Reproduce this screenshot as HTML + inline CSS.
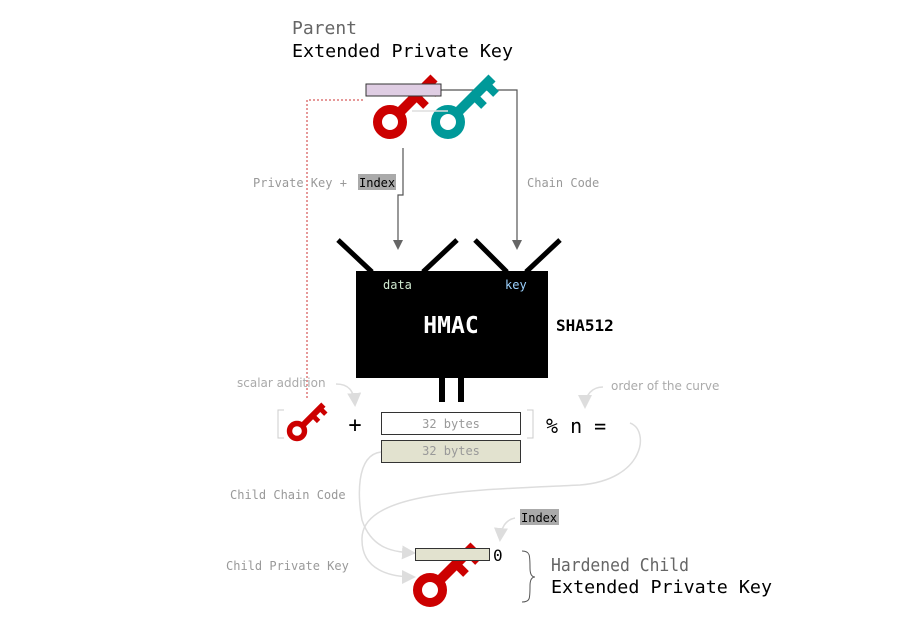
<!DOCTYPE html>
<html><head><meta charset="utf-8"><style>
html,body{margin:0;padding:0;background:#fff;}
svg{display:block;}
.m{font-family:"DejaVu Sans Mono","Liberation Mono",monospace;}
.s{font-family:"DejaVu Sans","Liberation Sans",sans-serif;}
</style></head><body>
<svg width="900" height="627" viewBox="0 0 900 627" xmlns="http://www.w3.org/2000/svg">
<defs>
<marker id="a" markerWidth="10" markerHeight="10" refX="8" refY="5" orient="auto" markerUnits="userSpaceOnUse"><path d="M0,0 L10,5 L0,10 z" fill="#666"/></marker>
<marker id="b" markerWidth="14" markerHeight="14" refX="12" refY="7" orient="auto" markerUnits="userSpaceOnUse"><path d="M0,0 L14,7 L0,14 z" fill="#ddd"/></marker>
<g id="key">
<circle cx="0" cy="0" r="12.5" fill="none" stroke-width="9"/>
<line x1="8" y1="-8" x2="44" y2="-44" stroke-width="10"/>
<line x1="26" y1="-26" x2="36" y2="-16" stroke-width="8"/>
<line x1="38" y1="-38" x2="48" y2="-28" stroke-width="8"/>
</g>
</defs>
<text x="292" y="34" class="m" font-size="18" fill="#666">Parent</text>
<text x="292" y="57" class="m" font-size="18" fill="#000" textLength="221" lengthAdjust="spacingAndGlyphs">Extended Private Key</text>
<polyline points="363,100 307,100 307,400" fill="none" stroke="#c33" stroke-width="1" stroke-dasharray="2,2"/>
<polyline points="441,90 517,90 517,248" fill="none" stroke="#555" stroke-width="1.2" marker-end="url(#a)"/>
<polyline points="403,148 403,195 398,195 398,248" fill="none" stroke="#555" stroke-width="1.2" marker-end="url(#a)"/>
<use href="#key" x="390" y="122" stroke="#cc0000"/>
<use href="#key" x="448" y="122" stroke="#009999"/>
<line x1="412" y1="111" x2="448" y2="111" stroke="#ddd" stroke-width="1.5"/>
<rect x="366" y="84" width="75" height="12" fill="#dfcde3" stroke="#333" stroke-width="1"/>
<text x="253" y="187" class="m" font-size="12" fill="#999">Private Key +</text>
<rect x="358" y="174" width="38" height="16" fill="#aaa"/>
<text x="359" y="187" class="m" font-size="12" fill="#000">Index</text>
<text x="527" y="187" class="m" font-size="12" fill="#999">Chain Code</text>
<g stroke="#000" stroke-width="5">
<line x1="338" y1="240" x2="372" y2="272"/><line x1="457" y1="240" x2="423" y2="272"/>
<line x1="475" y1="240" x2="507" y2="272"/><line x1="560" y1="240" x2="526" y2="272"/>
</g>
<rect x="356" y="271" width="192" height="107" fill="#000"/>
<text x="383" y="289" class="m" font-size="12" fill="#cfe8cf">data</text>
<text x="505" y="289" class="m" font-size="12" fill="#9cd2ff">key</text>
<text x="451" y="333" class="m" font-size="23" font-weight="bold" fill="#fff" text-anchor="middle">HMAC</text>
<text x="556" y="331" class="m" font-size="16" font-weight="bold" fill="#000">SHA512</text>
<rect x="439" y="378" width="6" height="24" fill="#000"/>
<rect x="458" y="378" width="6" height="24" fill="#000"/>
<path d="M284,410 L278,410 L278,438 L284,438" fill="none" stroke="#ccc" stroke-width="1"/>
<use href="#key" x="297" y="431" stroke="#cc0000" transform="translate(297,431) scale(0.6) translate(-297,-431)"/>
<text x="355" y="432" class="m" font-size="22" fill="#000" text-anchor="middle">+</text>
<rect x="381.5" y="412.5" width="139" height="22" fill="#fff" stroke="#333"/>
<text x="451" y="428" class="m" font-size="12" fill="#999" text-anchor="middle">32 bytes</text>
<rect x="381.5" y="440.5" width="139" height="22" fill="#e2e2cf" stroke="#333"/>
<text x="451" y="455" class="m" font-size="12" fill="#999" text-anchor="middle">32 bytes</text>
<path d="M527,410 L533,410 L533,438 L527,438" fill="none" stroke="#ccc" stroke-width="1"/>
<text x="546" y="433" class="m" font-size="20" fill="#000">% n =</text>
<text x="237" y="387" class="s" font-size="12" fill="#aaa">scalar addition</text>
<path d="M336,384 C348,384 354,390 355,405" fill="none" stroke="#ddd" stroke-width="1.5" marker-end="url(#b)"/>
<text x="611" y="390" class="s" font-size="12" fill="#aaa">order of the curve</text>
<path d="M603,387 C592,387 585,395 585,407" fill="none" stroke="#ddd" stroke-width="1.5" marker-end="url(#b)"/>
<path d="M381,452 C355,455 358,500 362,520 C372,550 395,552 414,553" fill="none" stroke="#ddd" stroke-width="1.5" marker-end="url(#b)"/>
<path d="M630,423 C650,430 645,480 580,485 C480,490 360,490 362,540 C362,570 390,577 414,577" fill="none" stroke="#ddd" stroke-width="1.5" marker-end="url(#b)"/>
<text x="230" y="499" class="m" font-size="12" fill="#999">Child Chain Code</text>
<text x="226" y="570" class="m" font-size="12" fill="#999">Child Private Key</text>
<use href="#key" x="430" y="590" stroke="#cc0000"/>
<rect x="415.5" y="548.5" width="74" height="12" fill="#e2e2cf" stroke="#333"/>
<text x="493" y="561" class="m" font-size="16" fill="#000">0</text>
<rect x="520" y="509" width="39" height="16" fill="#aaa"/>
<text x="521" y="522" class="m" font-size="12" fill="#000">Index</text>
<path d="M515,518 C505,520 501,528 500,540" fill="none" stroke="#ddd" stroke-width="1.5" marker-end="url(#b)"/>
<path d="M522,551 C530,551 530,555 530,568 C530,575 532,577 535,577 C532,577 530,579 530,586 C530,599 530,602 522,602" fill="none" stroke="#555" stroke-width="1"/>
<text x="551" y="571" class="m" font-size="18" fill="#666" textLength="138" lengthAdjust="spacingAndGlyphs">Hardened Child</text>
<text x="551" y="593" class="m" font-size="18" fill="#000" textLength="221" lengthAdjust="spacingAndGlyphs">Extended Private Key</text>
</svg>
</body></html>
